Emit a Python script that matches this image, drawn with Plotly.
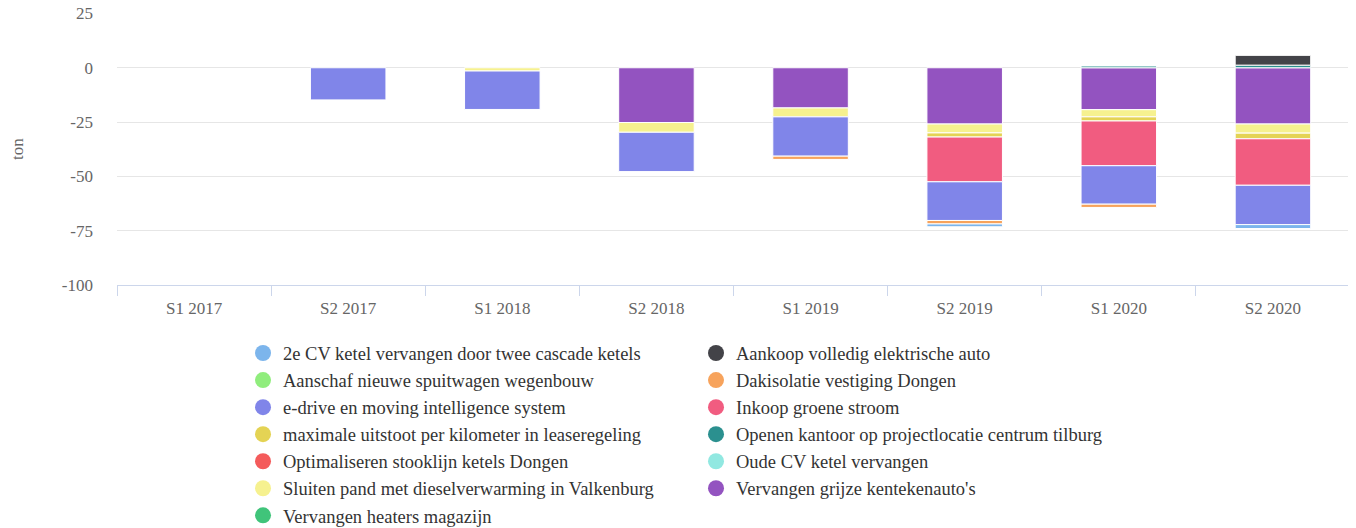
import plotly.graph_objects as go

categories = ['S1 2017', 'S2 2017', 'S1 2018', 'S2 2018', 'S1 2019', 'S2 2019', 'S1 2020', 'S2 2020']
y_ticks = [-100, -75, -50, -25, 0, 25]
y_tick_labels = ['-100', '-75', '-50', '-25', '0', '25']

# values per measure (ton), None = no bar
cv_cascade = [None, None, None, None, None, -1.3, None, -1.8]
aankoop_auto = [None, None, None, None, None, None, None, 4.5]
spuitwagen = [None] * 8
dakisolatie = [None, None, None, None, -1.5, -1.6, -1.5, None]
edrive = [None, -14.8, -17.7, -18.1, -18.1, -17.8, -17.7, -18.1]
groene_stroom = [None, None, None, None, None, -20.6, -20.6, -21.4]
max_uitstoot = [None, None, None, None, None, -1.9, -1.9, -2.6]
kantoor_tilburg = [None, None, None, None, None, None, 0.8, 1.2]
stooklijn = [None] * 8
oude_cv = [None] * 8
sluiten_pand = [None, None, -1.5, -4.5, -4.1, -4.1, -3.3, -4.2]
grijze_auto = [None, None, None, -25.2, -18.5, -25.9, -19.3, -25.9]
heaters = [None] * 8

series = [
    ('2e CV ketel vervangen door twee cascade ketels', '#7cb5ec', cv_cascade),
    ('Aankoop volledig elektrische auto', '#434348', aankoop_auto),
    ('Aanschaf nieuwe spuitwagen wegenbouw', '#90ed7d', spuitwagen),
    ('Dakisolatie vestiging Dongen', '#f7a35c', dakisolatie),
    ('e-drive en moving intelligence system', '#8085e9', edrive),
    ('Inkoop groene stroom', '#f15c80', groene_stroom),
    ('maximale uitstoot per kilometer in leaseregeling', '#e4d354', max_uitstoot),
    ('Openen kantoor op projectlocatie centrum tilburg', '#2b908f', kantoor_tilburg),
    ('Optimaliseren stooklijn ketels Dongen', '#f45b5b', stooklijn),
    ('Oude CV ketel vervangen', '#91e8e1', oude_cv),
    ('Sluiten pand met dieselverwarming in Valkenburg', '#f6f18f', sluiten_pand),
    ("Vervangen grijze kentekenauto's", '#9353c0', grijze_auto),
    ('Vervangen heaters magazijn', '#40c47a', heaters),
]

fig = go.Figure()

# bars: last series sits closest to zero, so add in reverse
for name, color, vals in reversed(series):
    fig.add_trace(go.Bar(
        x=categories, y=vals, name=name, showlegend=False,
        marker=dict(color=color, line=dict(color='white', width=1)),
    ))

# legend entries with round markers
for name, color, vals in series:
    fig.add_trace(go.Scatter(
        x=[categories[0]], y=[None], name=name, mode='markers',
        marker=dict(color=color, size=18, symbol='circle'),
    ))

font = 'Liberation Serif, Times New Roman, serif'
# page body has an 8px margin, so the figure is 8px smaller than the window
fig.update_layout(
    width=1348, height=520,
    barmode='relative', bargap=0.51,
    plot_bgcolor='white', paper_bgcolor='white',
    margin=dict(l=109, r=6, t=5, b=243, autoexpand=False),
    font=dict(family=font, color='#666666', size=17),
    legend=dict(
        orientation='h', x=0.1022, xanchor='left', y=-0.182, yanchor='top',
        entrywidth=408, itemsizing='trace', tracegroupgap=0,
        font=dict(family=font, size=18.5, color='#333333'),
    ),
    xaxis=dict(
        showline=True, linecolor='#ccd6eb', ticks='outside', tickson='boundaries',
        ticklen=10, tickcolor='#ccd6eb', showgrid=False, ticklabelstandoff=8,
        tickfont=dict(size=17, color='#666666'), automargin=False,
    ),
    yaxis=dict(
        range=[-100, 25.2], tickvals=y_ticks, ticktext=y_tick_labels,
        gridcolor='#e6e6e6', zeroline=False, automargin=False,
        ticklabeloverflow='allow',
        ticklabelstandoff=23, tickfont=dict(size=17, color='#666666'),
        title=dict(text='ton', standoff=36, font=dict(size=17, color='#666666')),
    ),
)

fig.write_html('out.html')
